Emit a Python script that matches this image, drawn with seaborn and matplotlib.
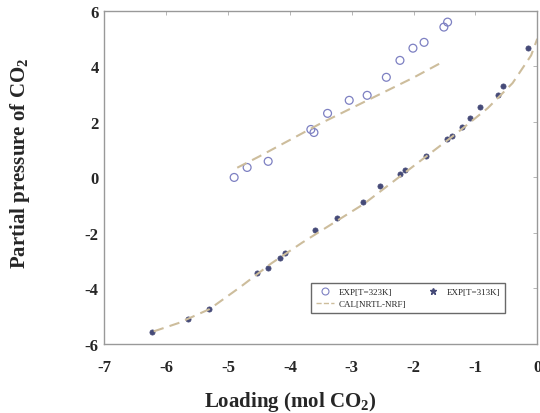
import matplotlib
matplotlib.use("Agg")
import matplotlib.pyplot as plt
import seaborn as sns
from matplotlib.lines import Line2D

# Experimental data, T = 323 K
x_323 = [-4.90, -4.69, -4.35, -3.66, -3.61, -3.39, -3.04, -2.75, -2.44, -2.22, -2.01, -1.83, -1.51, -1.45]
y_323 = [0.00, 0.36, 0.58, 1.73, 1.62, 2.31, 2.78, 2.96, 3.61, 4.22, 4.66, 4.87, 5.42, 5.60]

# Experimental data, T = 313 K
x_313 = [-6.23, -5.65, -5.30, -4.53, -4.35, -4.16, -4.08, -3.60, -3.24, -2.81, -2.54, -2.22, -2.14,
         -1.80, -1.46, -1.38, -1.21, -1.08, -0.92, -0.64, -0.55, -0.15]
y_313 = [-5.56, -5.09, -4.73, -3.43, -3.25, -2.89, -2.71, -1.91, -1.48, -0.87, -0.32, 0.14, 0.25,
         0.79, 1.37, 1.48, 1.81, 2.13, 2.53, 2.96, 3.29, 4.65]

# Calculated curves
cx_323 = [-4.85, -4.5, -4.0, -3.5, -3.0, -2.5, -2.0, -1.5]
cy_323 = [0.35, 0.75, 1.35, 1.95, 2.50, 3.05, 3.60, 4.20]
cx_313 = [-6.2, -5.8, -5.3, -4.8, -4.3, -3.8, -3.3, -2.8, -2.3, -1.8, -1.3, -0.8, -0.4, -0.1, 0.0]
cy_313 = [-5.55, -5.25, -4.75, -3.95, -3.10, -2.35, -1.65, -0.95, -0.10, 0.75, 1.60, 2.50, 3.40, 4.40, 5.00]

x_ticks = [-7, -6, -5, -4, -3, -2, -1, 0]
y_ticks = [-6, -4, -2, 0, 2, 4, 6]

sns.set_style("white")
plt.rcParams['font.family'] = ['Liberation Serif', 'DejaVu Serif']
plt.rcParams['mathtext.fontset'] = 'custom'
plt.rcParams['mathtext.rm'] = 'Liberation Serif:bold'
plt.rcParams['mathtext.bf'] = 'Liberation Serif:bold'

fig = plt.figure(figsize=(5.4, 4.14), dpi=100)
ax = fig.add_axes([0.193, 0.167, 0.802, 0.804])

line_col = '#cdbd9c'
sns.lineplot(x=cx_323, y=cy_323, ax=ax, color=line_col, lw=1.5, linestyle=(0, (5, 3)), sort=False)
sns.lineplot(x=cx_313, y=cy_313, ax=ax, color=line_col, lw=1.5, linestyle=(0, (5, 3)), sort=False)
sns.scatterplot(x=x_323, y=y_323, ax=ax, marker='o', s=32, facecolor='none', edgecolor='#7d80c2', linewidth=0.9)
sns.scatterplot(x=x_313, y=y_313, ax=ax, marker='o', s=14, color='#454a78', edgecolor='#454a78', linewidth=0.5)

h1 = Line2D([], [], marker='o', ls='none', mfc='none', mec='#7d80c2', ms=5, mew=0.8)
h2 = Line2D([], [], marker='*', ls='none', color='#454a78', ms=5)
h3 = Line2D([], [], color=line_col, ls='--', lw=1.0)
leg = ax.legend([h1, h3, h2], ['EXP[T=323K]', 'CAL[NRTL-NRF]', 'EXP[T=313K]'], ncol=2,
                loc='lower right', bbox_to_anchor=(0.935, 0.08), fontsize=6.5, frameon=True,
                fancybox=False, edgecolor='#444444', handlelength=2.0, handletextpad=0.5,
                borderpad=0.5, columnspacing=2.0, labelspacing=0.45)
leg.get_frame().set_linewidth(1.0)

ax.set_xlim(-7, 0)
ax.set_ylim(-6, 6)
ax.set_xticks(x_ticks)
ax.set_yticks(y_ticks)
ax.set_xticklabels([str(t) for t in x_ticks], fontweight='bold', fontsize=12)
ax.set_yticklabels([str(t) for t in y_ticks], fontweight='bold', fontsize=12)
ax.tick_params(direction='in', length=3, width=0.6, color='#aaaaaa', top=True, right=True)
ax.tick_params(axis='x', pad=11)
ax.tick_params(axis='y', pad=4)
for s in ax.spines.values():
    s.set_color('#999999')
    s.set_linewidth(1.0)

ax.set_xlabel(r'Loading (mol CO$_{2}$)', fontweight='bold', fontsize=15)
ax.set_ylabel(r'Partial pressure of CO$_{2}$', fontweight='bold', fontsize=15)
ax.xaxis.set_label_coords(0.43, -0.135)
ax.yaxis.set_label_coords(-0.166, 0.544)

fig.savefig('out.png', dpi=100)
